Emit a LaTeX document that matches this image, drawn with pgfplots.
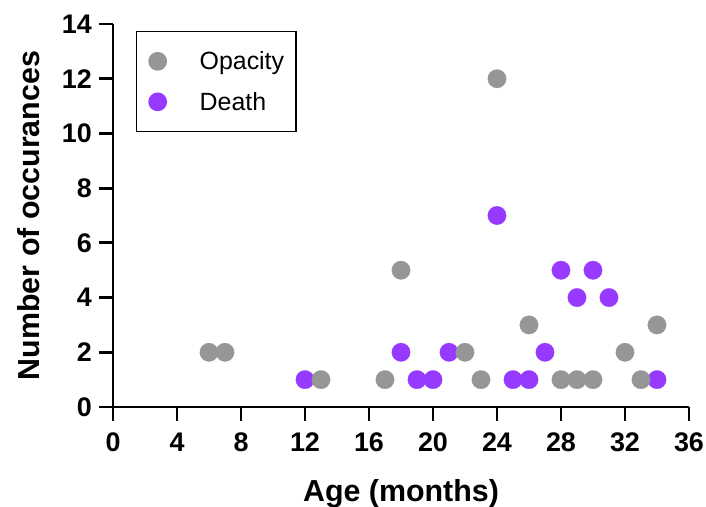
\documentclass[border=0pt]{standalone}
\usepackage{fontspec}
\setmainfont{Liberation Sans}
\usepackage{pgfplots}
\pgfplotsset{compat=1.18}
\definecolor{opgray}{RGB}{150,150,150}
\definecolor{dpurple}{RGB}{151,58,255}
\begin{document}
\begin{tikzpicture}
\begin{axis}[
  scale only axis, width=576bp, height=383bp,
  xmin=0, xmax=36, ymin=0, ymax=14,
  axis x line=bottom, axis y line=left,
  axis line style={line width=2.8bp, -},
  every tick/.style={line width=2.8bp, black},
  tick align=outside, major tick length=14bp,
  xtick={0,4,...,36}, ytick={0,2,...,14},
  /pgf/number format/assume math mode=true,
  tick label style={font=\fontsize{27}{27}\selectfont\bfseries, inner sep=0pt},
  xticklabel style={yshift=-12bp},
  yticklabel style={xshift=-7bp},
  xlabel={Age (months)}, ylabel={Number of occurances},
  label style={font=\fontsize{30.5}{30.5}\selectfont\bfseries},
  xlabel style={at={(axis description cs:0.5,0)}, anchor=base, yshift=-94bp},
  ylabel style={at={(axis description cs:-0.146,0.5)}, anchor=center},
  clip=false,
  reverse legend,
  legend style={at={(axis description cs:0.04,0.982)}, anchor=north west,
    draw=black, line width=1.3bp, font=\fontsize{25}{25}\selectfont,
    row sep=17bp, inner xsep=10bp, inner ysep=18bp},
  legend cell align=left,
  legend image code/.code={\path[draw=none,fill=none] (0bp,0bp) -- (51bp,0bp); \fill[#1, draw=none] (11bp,0bp) circle[radius=9.4bp];},
]
\addplot[only marks, mark=*, mark size=9.2bp, color=dpurple, mark options={line width=0.3bp}] coordinates {
(12,1) (18,2) (19,1) (20,1) (21,2) (24,7) (25,1) (26,1) (27,2) (28,5) (29,4) (30,5) (31,4) (34,1)};
\addlegendentry{Death}
\addplot[only marks, mark=*, mark size=9.2bp, color=opgray, mark options={line width=0.3bp}] coordinates {
(6,2) (7,2) (13,1) (17,1) (18,5) (22,2) (23,1) (24,12) (26,3) (28,1) (29,1) (30,1) (32,2) (33,1) (34,3)};
\addlegendentry{Opacity}
\end{axis}
\pgfresetboundingbox
\path[use as bounding box] ([shift={(-113bp,-100bp)}]current axis.south west) rectangle ([shift={(17bp,24bp)}]current axis.north east);
\end{tikzpicture}
\end{document}
